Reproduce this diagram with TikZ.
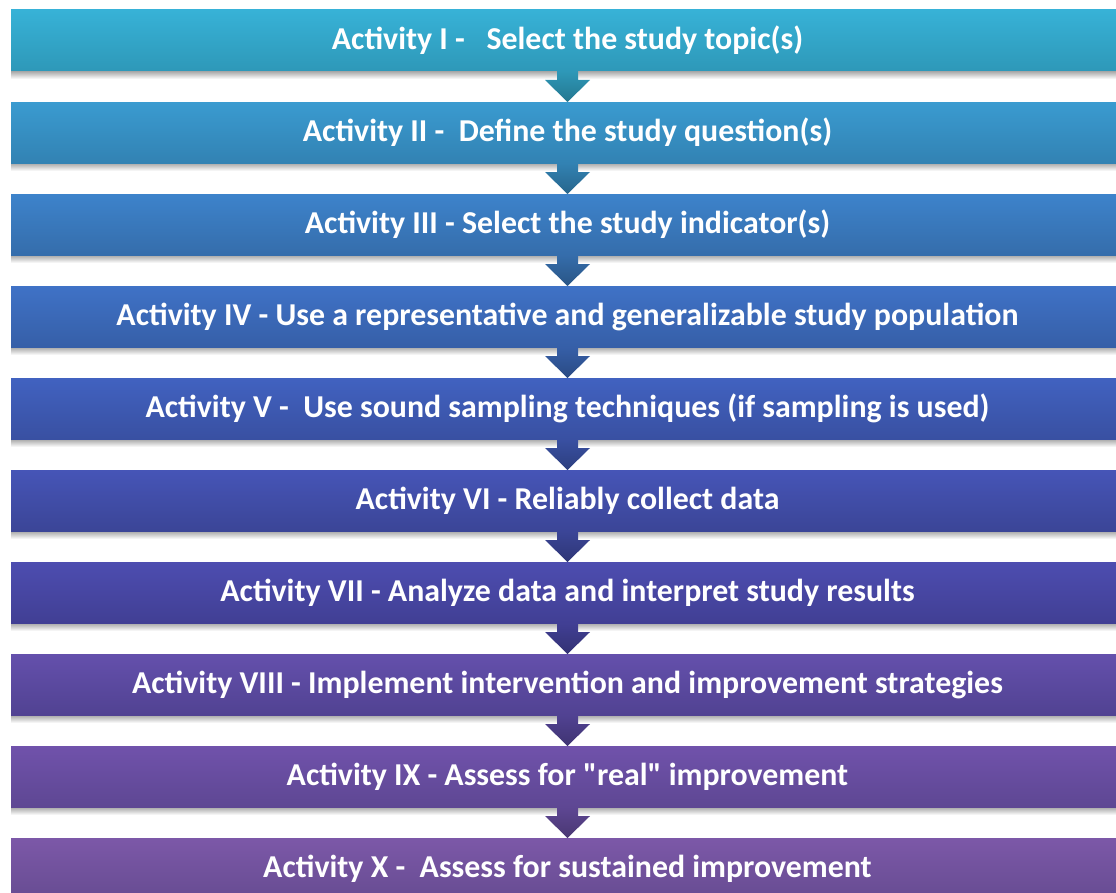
\documentclass[tikz,border=0pt]{standalone}
\usepackage{fontspec}
\setmainfont{Carlito}
\usepackage{tikz}
\usetikzlibrary{calc,backgrounds}
\definecolor{topI}{HTML}{37B2D7}\definecolor{botI}{HTML}{2E98B8}
\definecolor{topII}{HTML}{3A9BD0}\definecolor{botII}{HTML}{3282B3}
\definecolor{topIII}{HTML}{3D83CB}\definecolor{botIII}{HTML}{356DAB}
\definecolor{topIV}{HTML}{3F72C6}\definecolor{botIV}{HTML}{365FA8}
\definecolor{topV}{HTML}{4162C0}\definecolor{botV}{HTML}{3950A2}
\definecolor{topVI}{HTML}{4655B7}\definecolor{botVI}{HTML}{3B4597}
\definecolor{topVII}{HTML}{4D4DB0}\definecolor{botVII}{HTML}{413F94}
\definecolor{topVIII}{HTML}{6450AC}\definecolor{botVIII}{HTML}{514292}
\definecolor{topIX}{HTML}{7052AB}\definecolor{botIX}{HTML}{5E4793}
\definecolor{topX}{HTML}{7C58A8}\definecolor{botX}{HTML}{674C92}
% block arrow from the bottom of one bar to the top of the next
\newcommand{\downarrowblock}[3]{%
  \shade[top color=#3,bottom color=#3!78!black]
    ($(#1.south)+(-10.5,0)$) -- ++(0,9) -- ++(-12,0) -- (#2.north)
    -- ($(#1.south)+(22.5,9)$) -- ++(-12,0) -- ($(#1.south)+(10.5,0)$) -- cycle;}

\begin{document}
\begin{tikzpicture}[x=0.75pt,y=-0.75pt,
  actbar/.style={inner sep=0pt,outer sep=0pt,minimum width=834.75pt,minimum height=45.75pt,
    text=white,font=\bfseries\fontsize{23.9}{27}\selectfont}]
\useasboundingbox (0,0) rectangle (1116,892);
\node[actbar,top color=topI,bottom color=botI] (actI) at (567.5,40.5) {Activity I -\ \ \ Select the study topic(s)};
\node[actbar,top color=topII,bottom color=botII] (actII) at (567.5,132.5) {Activity II -\ \ Define the study question(s)};
\node[actbar,top color=topIII,bottom color=botIII] (actIII) at (567.5,224.5) {Activity III - Select the study indicator(s)};
\node[actbar,top color=topIV,bottom color=botIV] (actIV) at (567.5,316.5) {Activity IV - Use a representative and generalizable study population};
\node[actbar,top color=topV,bottom color=botV] (actV) at (567.5,408.5) {Activity V -\ \ Use sound sampling techniques (if sampling is used)};
\node[actbar,top color=topVI,bottom color=botVI] (actVI) at (567.5,500.5) {Activity VI - Reliably collect data};
\node[actbar,top color=topVII,bottom color=botVII] (actVII) at (567.5,592.5) {Activity VII - Analyze data and interpret study results};
\node[actbar,top color=topVIII,bottom color=botVIII] (actVIII) at (567.5,684.5) {Activity VIII - Implement intervention and improvement strategies};
\node[actbar,top color=topIX,bottom color=botIX] (actIX) at (567.5,776.5) {Activity IX - Assess for \textquotedbl real\textquotedbl\ improvement};
\node[actbar,top color=topX,bottom color=botX] (actX) at (567.5,868.5) {Activity X -\ \ Assess for sustained improvement};
% soft shadows under the bars
\begin{scope}[on background layer]
\foreach \b in {actI,actII,actIII,actIV,actV,actVI,actVII,actVIII,actIX}
  \shade[top color=black!35,bottom color=white] (\b.south west) rectangle ($(\b.south east)+(0,8)$);
\end{scope}
\downarrowblock{actI}{actII}{botI}
\downarrowblock{actII}{actIII}{botII}
\downarrowblock{actIII}{actIV}{botIII}
\downarrowblock{actIV}{actV}{botIV}
\downarrowblock{actV}{actVI}{botV}
\downarrowblock{actVI}{actVII}{botVI}
\downarrowblock{actVII}{actVIII}{botVII}
\downarrowblock{actVIII}{actIX}{botVIII}
\downarrowblock{actIX}{actX}{botIX}
\end{tikzpicture}
\end{document}
